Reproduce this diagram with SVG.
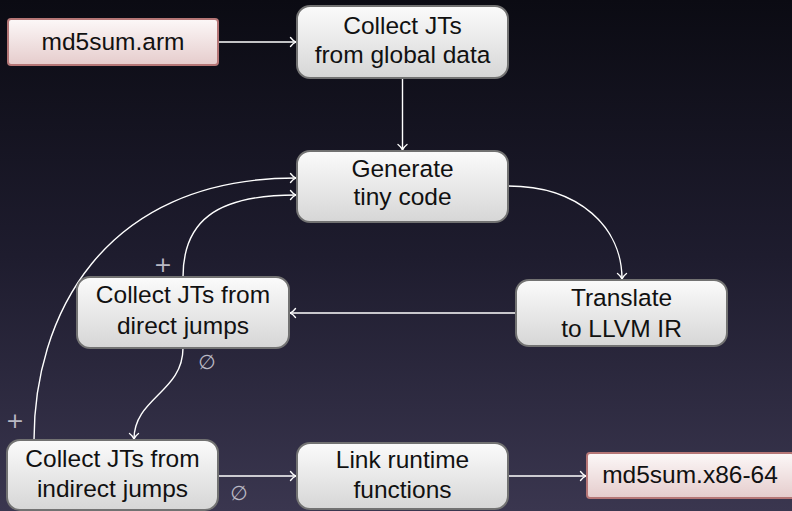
<svg xmlns="http://www.w3.org/2000/svg" width="792" height="511" viewBox="0 0 792 511">
  <defs>
    <linearGradient id="bg" x1="0" y1="0" x2="0" y2="1">
      <stop offset="0" stop-color="#0b0b13"/>
      <stop offset="0.5" stop-color="#1e1c2e"/>
      <stop offset="1" stop-color="#3a364f"/>
    </linearGradient>
    <linearGradient id="stepFill" x1="0" y1="0" x2="0" y2="1">
      <stop offset="0" stop-color="#fbfbfb"/>
      <stop offset="1" stop-color="#d6d6d6"/>
    </linearGradient>
    <linearGradient id="fileFill" x1="0" y1="0" x2="0" y2="1">
      <stop offset="0" stop-color="#fcf8f8"/>
      <stop offset="1" stop-color="#e5cccc"/>
    </linearGradient>
    <marker id="to" viewBox="-7 -6 8 12" refX="0" refY="0" markerWidth="8" markerHeight="12" markerUnits="userSpaceOnUse" orient="auto">
      <path d="M -5.5,-4.5 C -3.5,-1.8 -1.2,-0.5 0,0 C -1.2,0.5 -3.5,1.8 -5.5,4.5" fill="none" stroke="#ffffff" stroke-width="1.3" stroke-linecap="round"/>
    </marker>
  </defs>
  <style>
    .step { fill: url(#stepFill); stroke: #727272; stroke-width: 2; }
    .file { fill: url(#fileFill); stroke: #b57676; stroke-width: 2; }
    .label { font-family: "Liberation Sans", Arial, sans-serif; font-size: 24.5px; fill: #111111; text-anchor: middle; }
    .edge { fill: none; stroke: #ffffff; stroke-width: 1.4; marker-end: url(#to); }
    .tag { font-family: "DejaVu Sans", "Liberation Sans", sans-serif; fill: #b9b9c4; text-anchor: middle; }
  </style>

  <rect x="0" y="0" width="792" height="511" fill="url(#bg)"/>

  <!-- connectors -->
  <g id="connectors">
    <path class="edge" d="M 218,42 L 296,42"/>
    <path class="edge" d="M 402.5,78 L 402.5,150"/>
    <path class="edge" d="M 508,186 C 580,186 622,228 622,279"/>
    <path class="edge" d="M 516,313 L 290,313"/>
    <path class="edge" d="M 183,277 C 183,222 215,195 296,195"/>
    <path class="edge" d="M 34,440 C 34,320 100,178 296,178"/>
    <path class="edge" d="M 183,348 C 183,392 134,398 134,439"/>
    <path class="edge" d="M 218,476 L 296,476"/>
    <path class="edge" d="M 508,476 L 586,476"/>
    <text class="tag" x="163" y="272" font-size="22">+</text>
    <text class="tag" x="15" y="428" font-size="22">+</text>
    <text class="tag" x="207" y="369" font-size="20">∅</text>
    <text class="tag" x="239" y="500" font-size="20">∅</text>
  </g>

  <g id="md5sum-arm">
    <rect class="file" x="8" y="19" width="210" height="46" rx="3"/>
    <text class="label" x="113" y="50">md5sum.arm</text>
  </g>

  <g id="collect-global">
    <rect class="step" x="297" y="6" width="211" height="72" rx="13"/>
    <text class="label" x="402.5" y="34">Collect JTs</text>
    <text class="label" x="402.5" y="63">from global data</text>
  </g>

  <g id="generate">
    <rect class="step" x="297" y="151" width="211" height="71" rx="13"/>
    <text class="label" x="402.5" y="177">Generate</text>
    <text class="label" x="402.5" y="205">tiny code</text>
  </g>

  <g id="collect-direct">
    <rect class="step" x="77" y="277" width="212" height="71" rx="13"/>
    <text class="label" x="183" y="302.5">Collect JTs from</text>
    <text class="label" x="183" y="333.5">direct jumps</text>
  </g>

  <g id="translate">
    <rect class="step" x="516" y="280" width="211" height="66" rx="13"/>
    <text class="label" x="621.5" y="306">Translate</text>
    <text class="label" x="621.5" y="336.5">to LLVM IR</text>
  </g>

  <g id="collect-indirect">
    <rect class="step" x="7" y="440" width="211" height="70" rx="13"/>
    <text class="label" x="112.5" y="467">Collect JTs from</text>
    <text class="label" x="112.5" y="497">indirect jumps</text>
  </g>

  <g id="link">
    <rect class="step" x="297" y="443" width="211" height="66" rx="13"/>
    <text class="label" x="402.5" y="467.5">Link runtime</text>
    <text class="label" x="402.5" y="498">functions</text>
  </g>

  <g id="md5sum-x86-64">
    <rect class="file" x="587" y="453" width="207" height="45" rx="3"/>
    <text class="label" x="690" y="483">md5sum.x86-64</text>
  </g>
</svg>
